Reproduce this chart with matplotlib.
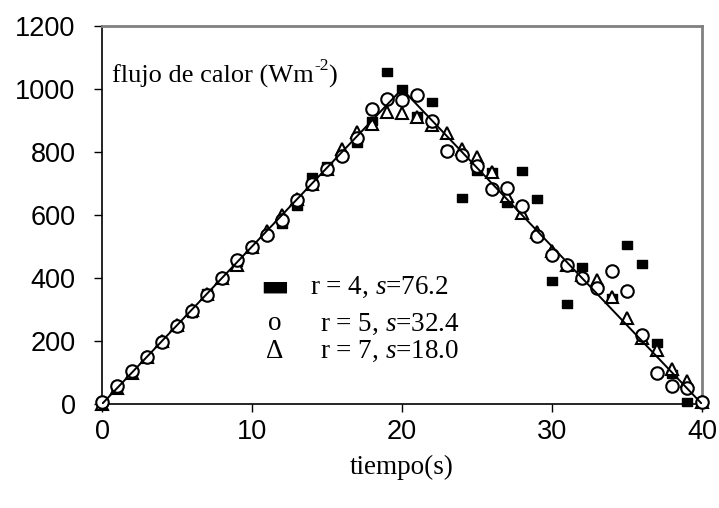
import matplotlib
matplotlib.use("Agg")
import matplotlib.pyplot as plt
import numpy as np

t = list(range(41))
sq_r4 = [5, 55, 103, 148, 195, 243, 290, 352, 400, 452, 495, 535, 573, 628, 720, 755,
         786, 827, 900, 1055, 1000, 915, 960, 805, 655, 740, 735, 637, 740, 650, 390,
         318, 435, 370, 335, 505, 445, 195, 95, 6, 5]
ci_r5 = [5, 57, 105, 149, 197, 247, 295, 345, 400, 458, 498, 536, 583, 647, 697, 745,
         788, 845, 937, 967, 964, 982, 900, 803, 790, 755, 683, 685, 627, 532, 472,
         440, 400, 368, 422, 360, 219, 98, 57, 50, 5]
tr_r7 = [0, 50, 100, 150, 200, 250, 300, 350, 400, 440, 500, 550, 600, 650, 700, 745,
         810, 862, 890, 926, 925, 910, 885, 860, 811, 783, 735, 660, 605, 545, 485,
         440, 410, 393, 340, 273, 210, 171, 111, 73, 5]
line_t = [0, 20, 40]
line_q = [0, 1000, 0]

legend_labels = ["r = 4, $s$=76.2", "r = 5, $s$=32.4", "r = 7, $s$=18.0"]
xticks = [0, 10, 20, 30, 40]
yticks = [0, 200, 400, 600, 800, 1000, 1200]

plt.rcParams['mathtext.fontset'] = 'custom'
plt.rcParams['mathtext.rm'] = 'Liberation Serif'
plt.rcParams['mathtext.it'] = 'Liberation Serif:italic'

fig = plt.figure(figsize=(7.19, 5.08), dpi=100)
ax = fig.add_axes([102/719, 1-404/508, (702-102)/719, (404-26)/508])

rect = [(-1, -0.75), (1, -0.75), (1, 0.75), (-1, 0.75), (-1, -0.75)]
ax.plot(t, sq_r4, linestyle='none', marker=rect, markersize=7.5, color='black',
        zorder=3, clip_on=False)
ax.plot(t, tr_r7, linestyle='none', marker='^', markersize=8.5, markerfacecolor='white',
        markeredgecolor='black', markeredgewidth=1.5, zorder=4, clip_on=False)
ax.plot(t, ci_r5, linestyle='none', marker='o', markersize=9, markerfacecolor='white',
        markeredgecolor='black', markeredgewidth=1.5, zorder=5, clip_on=False)
ax.plot(line_t, line_q, color='black', linewidth=1.4, zorder=6)

ax.set_xlim(0, 40)
ax.set_ylim(0, 1200)
ax.set_xticks(xticks)
ax.set_yticks(yticks)
ax.tick_params(axis='both', direction='out', length=6, width=1, labelsize=19.5)
ax.tick_params(axis='y', pad=13)
ax.tick_params(axis='x', pad=5)
for lab in ax.get_xticklabels() + ax.get_yticklabels():
    lab.set_fontfamily('Liberation Sans')

for side in ['left', 'bottom']:
    ax.spines[side].set_color('black')
    ax.spines[side].set_linewidth(1.2)
for side in ['top', 'right']:
    ax.spines[side].set_color('#808080')
    ax.spines[side].set_linewidth(2)

ax.set_xlabel('tiempo(s)', fontfamily='Liberation Serif', fontsize=19.5, labelpad=7)

t1 = ax.text(0.017, 0.85, 'flujo de calor (Wm', transform=ax.transAxes,
             fontfamily='Liberation Serif', fontsize=19, va='baseline', ha='left')
t2 = ax.annotate('-2', xy=(1, 0.62), xycoords=t1, fontfamily='Liberation Serif',
                 fontsize=12.5, va='bottom', ha='left')
ax.annotate(')', xy=(1, 0), xycoords=(t2, t1), fontfamily='Liberation Serif',
            fontsize=19, va='bottom', ha='left')

# legend rows
sym = ['\u25AC', 'o', '\u0394']
sym_x = [275, 275, 275]
lab_x = [310, 320, 320]
row_y = [287, 324, 351]
for s_, sx, lx, ry, lab in zip(sym, sym_x, lab_x, row_y, legend_labels):
    fam = ['DejaVu Sans'] if s_ == '\u25AC' else ['Liberation Serif']
    fig.text(sx/719, 1-ry/508, s_, fontfamily=fam, fontsize=22 if s_ == '\u25AC' else 19.5,
             ha='center', va='center')
    fig.text(lx/719, 1-ry/508, lab, fontfamily='Liberation Serif', fontsize=19.5,
             ha='left', va='center')

fig.savefig('out.png', dpi=100)
